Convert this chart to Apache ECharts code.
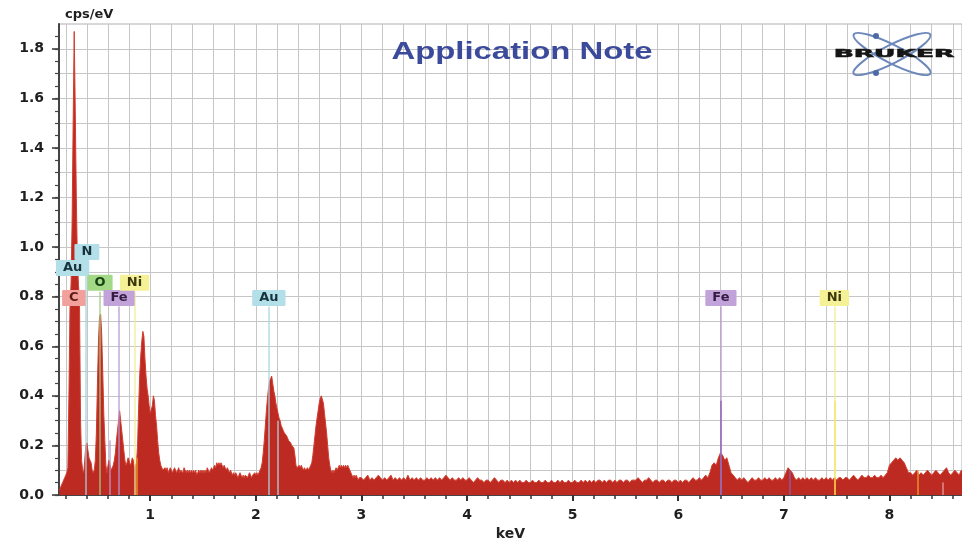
<!DOCTYPE html>
<html><head><meta charset="utf-8">
<script src="https://cdn.jsdelivr.net/npm/echarts@6/dist/echarts.min.js"></script>
<style>html,body{margin:0;padding:0;background:#fff}#c{width:962px;height:540px}</style>
</head><body><div id="c"></div>
<script>
// ---------- DATA ----------
// spectrum channels, low-energy part (0.14 .. 2.99 keV, 0.01 keV per channel)
const lowStart = 0.14, lowStep = 0.01;
const lowCounts = [
  .02,.03,.04,.05,.06,.07,.08,.09,.11,.40,
  .75,.85,1.10,1.50,1.87,1.55,1.20,.95,.85,.78,
  .30,.14,.10,.09,.14,.20,.21,.18,.15,.14,
  .13,.10,.09,.10,.14,.25,.45,.62,.72,.73,
  .65,.50,.33,.22,.12,.09,.12,.14,.12,.10,
  .11,.12,.14,.17,.22,.26,.30,.34,.30,.26,
  .22,.18,.14,.12,.13,.15,.14,.12,.13,.15,
  .14,.11,.12,.13,.20,.35,.48,.56,.62,.66,
  .64,.55,.48,.43,.40,.36,.33,.33,.36,.40,
  .38,.32,.28,.22,.17,.14,.12,.11,.10,.10,
  .11,.10,.11,.09,.10,.11,.10,.09,.10,.11,
  .10,.09,.10,.11,.09,.10,.10,.09,.11,.10,
  .09,.10,.09,.10,.09,.10,.09,.10,.09,.10,
  .08,.09,.10,.09,.10,.09,.10,.09,.10,.09,
  .11,.10,.09,.10,.11,.10,.11,.12,.11,.13,
  .12,.13,.12,.13,.12,.11,.12,.11,.10,.11,
  .10,.09,.10,.09,.08,.09,.08,.09,.08,.07,
  .08,.09,.08,.07,.08,.07,.08,.08,.07,.08,
  .09,.08,.07,.08,.08,.09,.08,.09,.08,.09,
  .10,.11,.13,.17,.22,.28,.34,.39,.43,.46,
  .47,.48,.45,.42,.40,.37,.35,.33,.31,.30,
  .28,.27,.26,.25,.25,.24,.23,.22,.22,.21,
  .20,.20,.19,.16,.12,.11,.11,.12,.11,.12,
  .11,.10,.11,.10,.10,.11,.10,.11,.12,.13,
  .16,.20,.24,.28,.31,.34,.37,.39,.40,.40,
  .37,.33,.29,.25,.20,.15,.12,.10,.09,.10,
  .09,.10,.11,.10,.11,.12,.11,.12,.11,.12,
  .11,.12,.11,.12,.11,.10,.09,.08,.07,.08,
  .07,.08,.07,.06,.07,.07
];
// spectrum channels, high-energy part (3.00 .. 8.70 keV, 0.02 keV per channel)
const highStart = 3.00, highStep = 0.02;
const highCounts = [
  .07,.06,.07,.08,.06,.07,.06,.07,.08,.07,
  .06,.07,.06,.07,.08,.06,.07,.06,.07,.06,
  .07,.06,.08,.06,.07,.06,.07,.06,.07,.06,
  .06,.07,.06,.07,.06,.07,.06,.07,.06,.07,
  .08,.07,.06,.07,.06,.06,.07,.06,.07,.06,
  .06,.07,.06,.05,.06,.07,.06,.06,.05,.06,
  .06,.05,.06,.07,.06,.05,.06,.06,.05,.06,
  .05,.06,.05,.06,.05,.06,.05,.05,.06,.05,
  .05,.06,.05,.05,.06,.05,.05,.06,.05,.05,
  .06,.05,.05,.06,.05,.06,.05,.05,.06,.05,
  .05,.06,.05,.05,.06,.05,.06,.05,.06,.05,
  .06,.05,.06,.06,.05,.06,.05,.06,.06,.05,
  .06,.05,.06,.06,.05,.06,.06,.05,.06,.06,
  .06,.07,.06,.05,.06,.06,.07,.06,.05,.06,
  .06,.05,.06,.06,.05,.06,.06,.05,.06,.06,
  .05,.06,.05,.06,.06,.05,.06,.07,.06,.06,
  .07,.06,.07,.08,.07,.09,.12,.13,.12,.15,
  .17,.16,.14,.15,.12,.09,.08,.07,.06,.07,
  .06,.07,.06,.05,.06,.07,.06,.06,.07,.06,
  .06,.07,.06,.07,.06,.06,.07,.06,.07,.06,
  .07,.09,.11,.10,.09,.07,.06,.07,.06,.07,
  .06,.07,.06,.07,.06,.07,.06,.06,.07,.06,
  .07,.06,.07,.06,.07,.06,.07,.07,.06,.07,
  .07,.06,.07,.08,.07,.06,.07,.08,.07,.07,
  .08,.07,.07,.08,.07,.07,.08,.07,.08,.09,
  .12,.13,.14,.15,.14,.15,.14,.13,.11,.09,
  .09,.08,.09,.10,.08,.09,.08,.09,.10,.09,
  .08,.09,.10,.09,.08,.09,.10,.11,.09,.08,
  .09,.10,.09,.08,.10,.09
];

// axis tick values
const xLabelValues = [1, 2, 3, 4, 5, 6, 7, 8];
const xMinorValues = [0.2,0.4,0.6,0.8,1,1.2,1.4,1.6,1.8,2,2.2,2.4,2.6,2.8,3,3.2,3.4,3.6,3.8,4,
  4.2,4.4,4.6,4.8,5,5.2,5.4,5.6,5.8,6,6.2,6.4,6.6,6.8,7,7.2,7.4,7.6,7.8,8,8.2,8.4,8.6];
const yLabelValues = [0, 0.2, 0.4, 0.6, 0.8, 1.0, 1.2, 1.4, 1.6, 1.8];
const yMinorValues = [0,0.05,0.1,0.15,0.2,0.25,0.3,0.35,0.4,0.45,0.5,0.55,0.6,0.65,0.7,0.75,0.8,0.85,
  0.9,0.95,1,1.05,1.1,1.15,1.2,1.25,1.3,1.35,1.4,1.45,1.5,1.55,1.6,1.65,1.7,1.75,1.8,1.85];
const yGridValues = [0.1,0.2,0.3,0.4,0.5,0.6,0.7,0.8,0.9,1.0,1.1,1.2,1.3,1.4,1.5,1.6,1.7,1.8];

// element labels
const labelNames    = ['C', 'N', 'Au', 'O', 'Fe', 'Ni', 'Au', 'Fe', 'Ni'];
const labelEnergies = [0.277, 0.40, 0.265, 0.525, 0.705, 0.851, 2.123, 6.404, 7.478];
const labelLevels   = [0.795, 0.98, 0.916, 0.856, 0.795, 0.856, 0.795, 0.795, 0.795];

// element lines (energy, height, kind)
const lineEnergies = [0.392, 0.525, 0.615, 0.705, 0.851, 0.868, 2.123, 2.204, 6.404, 6.404, 7.058, 7.478, 7.478, 7.478, 8.265, 8.50];
const lineTops     = [0.95,  0.82,  0.22,  0.76,  0.82,  0.15,  0.76,  0.30,  0.76,  0.38,  0.10,  0.76,  0.38,  0.07,  0.10,  0.05];
const lineKinds    = ['N', 'O', 'Fe', 'Fe', 'Ni', 'NiB', 'Au', 'Au', 'Fe', 'FeK', 'FeK', 'Ni', 'NiK', 'NiB', 'NiB', 'Pk'];

// ---------- STYLE ----------
const labelBg   = {C:'#f2a09b', N:'#b3dfe8', Au:'#b3dfe8', O:'#a2d886', Fe:'#c2a3d9', Ni:'#f5f196'};
const labelText = {C:'#5e1a15', N:'#17333b', Au:'#17333b', O:'#173f12', Fe:'#321a40', Ni:'#3c370c'};
const lineColor = {N:'#a3d3de', O:'#a0cc84', Fe:'#b797d2', FeK:'#8a5fb4', Ni:'#f1eb92', NiK:'#f2e45a', NiB:'#f0a030', Au:'#a9d6e0', Pk:'#e8a0a0'};
const tickFont = 'DejaVu Sans';

// ---------- BUILD ----------
const spectrum = [];
lowCounts.forEach((c, i) => spectrum.push([+(lowStart + i * lowStep).toFixed(3), c]));
highCounts.forEach((c, i) => spectrum.push([+(highStart + i * highStep).toFixed(3), c]));

const markLines = lineEnergies.map((e, i) => [
  {coord: [e, 0], lineStyle: {color: lineColor[lineKinds[i]], width: 1.5, type: 'solid', opacity: 0.85}},
  {coord: [e, lineTops[i]]}
]);

const labelData = labelNames.map((n, i) => ({
  name: n,
  value: [labelEnergies[i], labelLevels[i]],
  label: {backgroundColor: labelBg[n], color: labelText[n]}
}));

const X_MIN = 0.136, X_MAX = 8.687, Y_MAX = 1.9;

const chart = echarts.init(document.getElementById('c'), null, {renderer: 'canvas'});
chart.setOption({
  animation: false,
  backgroundColor: '#ffffff',
  grid: {left: 59, top: 24, right: 0, bottom: 45, show: true, borderColor: '#b0b0b0', borderWidth: 1,
         backgroundColor: '#ffffff', outerBoundsMode: 'none', containLabel: false},
  xAxis: [
    {type: 'value', position: 'bottom', min: X_MIN, max: X_MAX,
     name: 'keV', nameLocation: 'middle', nameGap: 31,
     nameTextStyle: {fontFamily: tickFont, fontWeight: 'bold', fontSize: 14, color: '#222'},
     axisLine: {show: true, lineStyle: {color: '#444', width: 2}},
     axisTick: {show: true, customValues: xLabelValues, length: 6, lineStyle: {color: '#333', width: 2}},
     axisLabel: {show: true, customValues: xLabelValues, margin: 13, fontFamily: tickFont, fontWeight: 'bold',
                 fontSize: 14, color: '#1e1e1e', formatter: v => String(Math.round(v))},
     splitLine: {show: false}},
    {type: 'value', position: 'bottom', min: X_MIN, max: X_MAX,
     axisLine: {show: false},
     axisTick: {show: true, customValues: xMinorValues, length: 4, lineStyle: {color: '#333', width: 1.5}},
     axisLabel: {show: false},
     splitLine: {show: true, lineStyle: {color: '#c6c6c6', width: 1}}}
  ],
  yAxis: [
    {type: 'value', position: 'left', min: 0, max: Y_MAX,
     name: 'cps/eV', nameLocation: 'end', nameGap: 3,
     nameTextStyle: {fontFamily: tickFont, fontWeight: 'bold', fontSize: 13, color: '#1e1e1e', align: 'left',
                     verticalAlign: 'bottom', padding: [0, 0, 0, 6]},
     axisLine: {show: true, lineStyle: {color: '#444', width: 2}},
     axisTick: {show: true, customValues: yLabelValues, length: 7, lineStyle: {color: '#333', width: 1.5}},
     axisLabel: {show: true, customValues: yLabelValues, margin: 15, fontFamily: tickFont, fontWeight: 'bold',
                 fontSize: 14, color: '#1e1e1e', formatter: v => v.toFixed(1)},
     splitLine: {show: false}},
    {type: 'value', position: 'left', min: 0, max: Y_MAX,
     axisLine: {show: false},
     axisTick: {show: true, customValues: yMinorValues, length: 4, lineStyle: {color: '#444', width: 1.2}},
     axisLabel: {show: false},
     splitLine: {show: false}},
    {type: 'value', position: 'right', min: 0, max: Y_MAX,
     axisLine: {show: false},
     axisTick: {show: false, customValues: yGridValues},
     axisLabel: {show: false},
     splitLine: {show: true, lineStyle: {color: '#c6c6c6', width: 1}}}
  ],
  series: [
    {type: 'line', name: 'spectrum', xAxisIndex: 0, yAxisIndex: 0, data: spectrum,
     showSymbol: false, symbol: 'none', z: 3,
     lineStyle: {color: '#d23c2e', width: 1},
     areaStyle: {color: '#bd2a21', opacity: 1}},
    {type: 'line', name: 'lines', xAxisIndex: 0, yAxisIndex: 0, data: [], z: 4, silent: true,
     markLine: {silent: true, symbol: ['none', 'none'], label: {show: false}, animation: false,
                emphasis: {disabled: true}, data: markLines}},
    {type: 'scatter', name: 'labels', xAxisIndex: 0, yAxisIndex: 0, data: labelData, z: 6,
     symbolSize: 1, itemStyle: {color: 'rgba(0,0,0,0)'}, silent: true,
     label: {show: true, position: 'inside', formatter: p => p.name, fontFamily: tickFont,
             fontWeight: 'bold', fontSize: 13, lineHeight: 12, padding: [2, 7], borderRadius: 1,
             textBorderWidth: 0, textShadowBlur: 0, opacity: 1}}
  ],
  graphic: [
    {type: 'text', x: 522, y: 52, scaleX: 1.37, z: 10,
     style: {text: 'Application Note', fill: '#3b4a9b', fontFamily: 'Liberation Sans', fontWeight: 'bold',
             fontSize: 24, align: 'center', verticalAlign: 'middle'}},
    {type: 'ellipse', x: 892, y: 54, rotation: 0.47, z: 10,
     shape: {cx: 0, cy: 0, rx: 43, ry: 9}, style: {fill: 'none', stroke: '#6c88ba', lineWidth: 2}},
    {type: 'ellipse', x: 892, y: 54, rotation: -0.47, z: 10,
     shape: {cx: 0, cy: 0, rx: 43, ry: 9}, style: {fill: 'none', stroke: '#6c88ba', lineWidth: 2}},
    {type: 'circle', x: 876, y: 36, z: 10, shape: {cx: 0, cy: 0, r: 3}, style: {fill: '#4d6aa6'}},
    {type: 'circle', x: 876, y: 73, z: 10, shape: {cx: 0, cy: 0, r: 3}, style: {fill: '#4d6aa6'}},
    {type: 'text', x: 894, y: 54, scaleX: 2.4, z: 11,
     style: {text: 'BRUKER', fill: '#151515', stroke: '#151515', lineWidth: 0.6, fontFamily: 'DejaVu Sans',
             fontWeight: 'bold', fontSize: 11, align: 'center', verticalAlign: 'middle'}}
  ]
});
</script></body></html>
